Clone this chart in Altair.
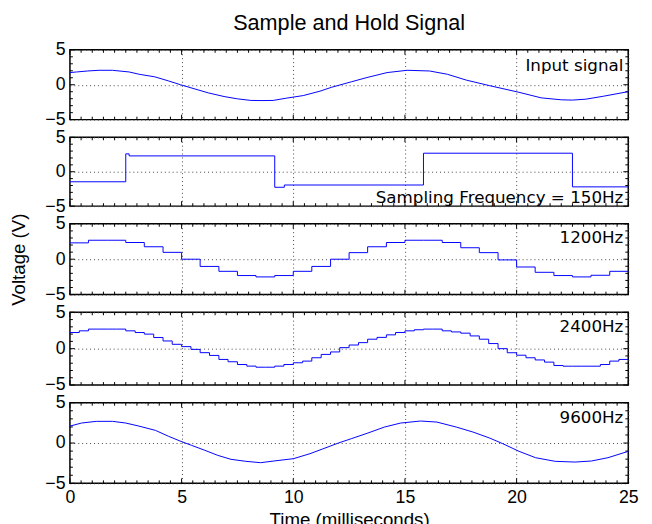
import altair as alt
import pandas as pd

# ---------------- data ----------------
# Input signal (ms, V)
t_input = [0, 0.3, 0.8, 1.3, 1.9, 2.65, 3.1, 3.8, 4.4, 4.95, 5.6, 6.2, 6.9, 7.5, 8.1,
           8.6, 9.1, 9.7, 10.45, 11.2, 11.7, 12.6, 13.3, 14.2, 15.1, 16.1, 16.9, 17.75,
           18.8, 20.1, 21.1, 22.0, 22.5, 23.1, 23.9, 25]
v_input = [1.74, 1.83, 1.97, 2.07, 2.07, 1.83, 1.5, 1.13, 0.56, 0.0, -0.61, -1.17, -1.69,
           -2.02, -2.25, -2.27, -2.25, -1.92, -1.55, -0.92, -0.38, 0.42, 1.03, 1.74, 2.07,
           1.97, 1.5, 0.66, -0.14, -1.08, -1.88, -2.16, -2.2, -2.07, -1.64, -0.99]

# 150 Hz sample and hold (step-after)
t_150 = [0, 2.5, 2.65, 9.17, 9.6, 15.83, 22.5, 25]
v_150 = [-1.46, 2.6, 2.3, -2.26, -1.93, 2.69, -2.2, -2.2]

# 1200 Hz sample and hold (step-after)
t_1200 = [0.0, 0.83, 1.67, 2.5, 3.33, 4.17, 5.0, 5.83, 6.67, 7.5, 8.33, 9.17, 10.0, 10.83,
          11.67, 12.5, 13.33, 14.17, 15.0, 15.83, 16.67, 17.5, 18.33, 19.17, 20.0, 20.83,
          21.67, 22.5, 23.33, 24.17, 25.0]
v_1200 = [2.31, 2.68, 2.68, 2.36, 1.76, 0.97, 0.0, -1.02, -1.71, -2.31, -2.5, -2.31, -1.71,
          -1.02, 0.0, 0.93, 1.76, 2.36, 2.68, 2.68, 2.36, 1.62, 0.93, -0.1, -1.1, -1.85,
          -2.31, -2.5, -2.27, -1.71, -1.71]

# 2400 Hz sample and hold (step-after)
t_2400 = [0.0, 0.42, 0.83, 1.25, 1.67, 2.08, 2.5, 2.92, 3.33, 3.75, 4.17, 4.58, 5.0, 5.42,
          5.83, 6.25, 6.67, 7.08, 7.5, 7.92, 8.33, 8.75, 9.17, 9.58, 10.0, 10.42, 10.83,
          11.25, 11.67, 12.08, 12.5, 12.92, 13.33, 13.75, 14.17, 14.58, 15.0, 15.42, 15.83,
          16.25, 16.67, 17.08, 17.5, 17.92, 18.33, 18.75, 19.17, 19.58, 20.0, 20.42, 20.83,
          21.25, 21.67, 22.08, 22.5, 22.92, 23.33, 23.75, 24.17, 24.58, 25.0]
v_2400 = [2.22, 2.45, 2.69, 2.69, 2.69, 2.69, 2.45, 2.22, 2.0, 1.53, 1.06, 0.6, 0.28, -0.1,
          -0.55, -0.93, -1.48, -1.8, -2.18, -2.4, -2.55, -2.55, -2.4, -2.18, -1.94, -1.71,
          -1.25, -0.79, -0.45, 0.14, 0.5, 0.83, 1.3, 1.55, 1.9, 2.22, 2.45, 2.6, 2.69, 2.69,
          2.45, 2.3, 2.13, 1.75, 1.3, 0.7, 0.0, -0.56, -0.9, -1.25, -1.55, -1.85, -2.31,
          -2.41, -2.41, -2.41, -2.41, -2.18, -1.71, -1.48, -1.48]

# 9600 Hz sample and hold (steps too fine to resolve; drawn as line)
t_9600 = [0, 0.52, 1.18, 1.91, 2.5, 3.09, 3.83, 4.42, 4.93, 5.45, 6.04, 6.62, 7.21, 7.88,
          8.54, 9.13, 10.01, 10.75, 11.3, 12.02, 12.6, 13.34, 14.08, 14.81, 15.7, 16.43,
          17.3, 18.05, 18.79, 19.38, 20.11, 20.85, 21.73, 22.62, 23.35, 24.09, 25]
v_9600 = [2.1, 2.48, 2.69, 2.69, 2.48, 2.1, 1.57, 0.83, 0.25, -0.29, -0.9, -1.53, -2.02,
          -2.27, -2.44, -2.23, -1.94, -1.32, -0.75, 0.0, 0.54, 1.24, 1.98, 2.48, 2.73, 2.6,
          1.98, 1.36, 0.62, -0.08, -1.03, -1.82, -2.27, -2.36, -2.23, -1.82, -1.03]

panel_labels = ["Input signal", "Sampling Frequency = 150Hz", "1200Hz", "2400Hz", "9600Hz"]

x_major = [0, 5, 10, 15, 20, 25]
x_minor = [0.5, 1, 1.5, 2, 2.5, 3, 3.5, 4, 4.5, 5.5, 6, 6.5, 7, 7.5, 8, 8.5, 9, 9.5,
           10.5, 11, 11.5, 12, 12.5, 13, 13.5, 14, 14.5, 15.5, 16, 16.5, 17, 17.5, 18,
           18.5, 19, 19.5, 20.5, 21, 21.5, 22, 22.5, 23, 23.5, 24, 24.5]
y_major = [-5, 0, 5]
y_minor = [-4, -3, -2, -1, 1, 2, 3, 4]

# ---------------- chart ----------------
W = 568
BLUE = "#0000ff"
XS = alt.Scale(domain=[0, 25], nice=False, zero=False)
YS = alt.Scale(domain=[-5, 5], nice=False, zero=False)
LABEL_FONT = "Liberation Sans"


def tick_layers(h, xaxis, yaxis):
    layers = []
    for vals, ln in ((x_major, 5), (x_minor, 3)):
        d = pd.DataFrame({"t": vals})
        layers.append(alt.Chart(d).mark_rule(color="black", strokeWidth=1).encode(
            x=alt.X("t:Q", scale=XS, axis=xaxis), y=alt.value(0), y2=alt.value(ln)))
        layers.append(alt.Chart(d).mark_rule(color="black", strokeWidth=1).encode(
            x=alt.X("t:Q", scale=XS, axis=xaxis), y=alt.value(h), y2=alt.value(h - ln)))
    for vals, ln in ((y_major, 5), (y_minor, 3)):
        d = pd.DataFrame({"v": vals})
        layers.append(alt.Chart(d).mark_rule(color="black", strokeWidth=1).encode(
            y=alt.Y("v:Q", scale=YS, axis=yaxis), x=alt.value(0), x2=alt.value(ln)))
        layers.append(alt.Chart(d).mark_rule(color="black", strokeWidth=1).encode(
            y=alt.Y("v:Q", scale=YS, axis=yaxis), x=alt.value(W), x2=alt.value(W - ln)))
    return layers


def panel(t, v, label, h, step, label_y, bottom=False, ytitle=False):
    df = pd.DataFrame({"t": t, "v": v})
    xaxis_kw = dict(values=x_major, grid=True, gridDash=[1, 3], gridColor="#444444",
                    gridOpacity=1, gridWidth=1, ticks=False, domain=False,
                    labelFlush=False, labelFont=LABEL_FONT, labelFontSize=18,
                    labelColor="black", titleFont=LABEL_FONT, titleFontSize=19,
                    titleFontWeight="normal", titleColor="black")
    if bottom:
        xaxis = alt.Axis(labels=True, title="Time (milliseconds)", labelPadding=5,
                         titlePadding=5, **xaxis_kw)
    else:
        xaxis = alt.Axis(labels=False, title=None, **xaxis_kw)
    yaxis_kw = dict(values=y_major, grid=True, gridDash=[1, 3], gridColor="#444444",
                    gridOpacity=1, gridWidth=1, ticks=False, domain=False,
                    labelPadding=5, labelFlush=False, labelOverlap=False,
                    labelFont=LABEL_FONT, labelFontSize=18, labelColor="black",
                    titleFont=LABEL_FONT, titleFontSize=19, titleFontWeight="normal",
                    titleColor="black")
    if ytitle:
        yaxis = alt.Axis(title="Voltage (V)", titlePadding=17, **yaxis_kw)
    else:
        yaxis = alt.Axis(title=None, **yaxis_kw)

    line_kw = dict(color=BLUE, strokeWidth=1)
    if step:
        line_kw["interpolate"] = "step-after"
    line = alt.Chart(df).mark_line(**line_kw).encode(
        x=alt.X("t:Q", scale=XS, axis=xaxis),
        y=alt.Y("v:Q", scale=YS, axis=yaxis),
    )
    txt = alt.Chart(pd.DataFrame({"label": [label]})).mark_text(
        align="right", baseline="alphabetic", font="DejaVu Sans", fontSize=17,
        color="black").encode(x=alt.value(W - 5), y=alt.value(label_y), text="label:N")
    return alt.layer(*tick_layers(h, xaxis, yaxis), line, txt).properties(width=W, height=h)


p1 = panel(t_input, v_input, panel_labels[0], 71, False, 22)
p2 = panel(t_150, v_150, panel_labels[1], 70, True, 67)
p3 = panel(t_1200, v_1200, panel_labels[2], 72, True, 20, ytitle=True)
p4 = panel(t_2400, v_2400, panel_labels[3], 74, True, 20)
p5 = panel(t_9600, v_9600, panel_labels[4], 82, False, 21, bottom=True)

chart = alt.vconcat(p1, p2, p3, p4, p5, spacing=18, bounds="flush").properties(
    title=alt.TitleParams("Sample and Hold Signal", font=LABEL_FONT, fontSize=22,
                          fontWeight="normal", anchor="middle", frame="group",
                          offset=1, dy=-4, color="black"),
    padding={"left": 0, "top": 0, "right": 5, "bottom": 0},
    background="white",
).configure_view(stroke="black", strokeWidth=1.5)

chart.save("out.html", embed_options={"renderer": "svg", "actions": False})
